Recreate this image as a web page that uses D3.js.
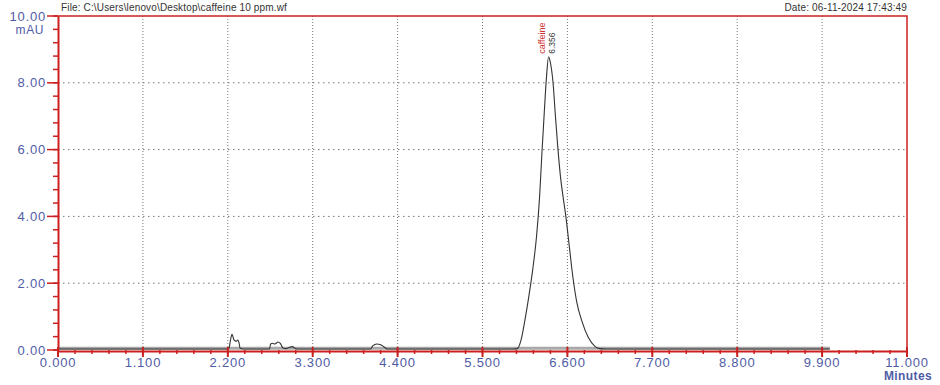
<html>
<head>
    <style>
        body {
            margin: 0;
            background: white;
            font-family: Arial, "Liberation Sans", Helvetica, sans-serif
        }
    </style>
    <script src="https://cdn.jsdelivr.net/npm/d3@7"></script>
</head>
<body>
    <svg id="Chromatogram"></svg>

    <script>
    // retention time (min) and absorbance (mAU)
    let times = [0, 2.2, 2.215, 2.235, 2.255, 2.28, 2.31, 2.33, 2.345, 2.36, 2.40,
        2.74, 2.755, 2.78, 2.81, 2.85, 2.88, 2.915, 2.95, 3.0, 3.04, 3.07, 3.1,
        4.05, 4.08, 4.13, 4.18, 4.23, 4.27,
        5.9, 5.95, 6.0, 6.05, 6.1, 6.15, 6.2, 6.24, 6.27, 6.30, 6.33, 6.356,
        6.38, 6.414, 6.445, 6.478, 6.51, 6.543, 6.58, 6.62, 6.67, 6.72, 6.79, 6.87, 6.96, 7.02, 7.1, 10.0];
    let signal = [0.03, 0.03, 0.05, 0.3, 0.47, 0.3, 0.26, 0.3, 0.22, 0.05, 0.03,
        0.03, 0.18, 0.2, 0.18, 0.24, 0.2, 0.06, 0.04, 0.08, 0.1, 0.05, 0.03,
        0.03, 0.13, 0.18, 0.16, 0.08, 0.03,
        0.03, 0.04, 0.3, 0.9, 1.6, 2.4, 3.4, 4.6, 5.9, 7.1, 8.2, 8.78,
        8.6, 8.0, 7.0, 6.0, 5.2, 4.6, 4.0, 3.2, 2.2, 1.45, 0.85, 0.38, 0.1, 0.04, 0.03, 0.03];

    let xTicks = [0, 1.1, 2.2, 3.3, 4.4, 5.5, 6.6, 7.7, 8.8, 9.9, 11];
    let yTicks = [0, 2, 4, 6, 8, 10];
    let baselineRange = [0, 10.0];

    let peakName = "caffeine";
    let peakTime = 6.356;
    let peakHeight = 8.78;

    let fileLabel = "File: C:\\Users\\lenovo\\Desktop\\caffeine 10 ppm.wf";
    let dateLabel = "Date: 06-11-2024 17:43:49";

    let red = "#cc2020";
    let blue = "#4f5ca6";

    function getConfig() {
        let width = 940;
        let height = 385;
        let margin = { top: 16, bottom: 35, left: 58, right: 33 };
        let bodyWidth = width - margin.left - margin.right;
        let bodyHeight = height - margin.top - margin.bottom;
        let container = d3.select("#Chromatogram")
            .attr("width", width)
            .attr("height", height);
        return { width, height, margin, bodyWidth, bodyHeight, container };
    }

    function getScales(config) {
        let { margin, bodyWidth, bodyHeight } = config;
        let xScale = d3.scaleLinear()
            .domain([0, 11])
            .range([margin.left, margin.left + bodyWidth]);
        let yScale = d3.scaleLinear()
            .domain([0, 10])
            .range([margin.top + bodyHeight, margin.top]);
        return { xScale, yScale };
    }

    function drawGrid(scales, config) {
        let { xScale, yScale } = scales;
        let { container } = config;
        let g = container.append("g");
        g.selectAll(".vgrid").data(xTicks.slice(1, -1))
            .enter().append("line")
            .attr("x1", d => xScale(d)).attr("x2", d => xScale(d))
            .attr("y1", yScale(10)).attr("y2", yScale(0))
            .attr("stroke", "#777")
            .attr("stroke-width", 1)
            .attr("stroke-dasharray", "1,2");
        g.selectAll(".hgrid").data(yTicks.slice(1, -1))
            .enter().append("line")
            .attr("x1", xScale(0)).attr("x2", xScale(11))
            .attr("y1", d => yScale(d)).attr("y2", d => yScale(d))
            .attr("stroke", "#777")
            .attr("stroke-width", 1)
            .attr("stroke-dasharray", "1.5,3.5");
    }

    function drawTrace(scales, config) {
        let { xScale, yScale } = scales;
        let { container } = config;

        // grey baseline band
        container.append("line")
            .attr("x1", xScale(baselineRange[0])).attr("x2", xScale(baselineRange[1]))
            .attr("y1", yScale(0.05)).attr("y2", yScale(0.05))
            .attr("stroke", "#a8a8a8")
            .attr("stroke-width", 3);

        let points = times.map((t, i) => [t, signal[i]]);
        let line = d3.line()
            .x(d => xScale(d[0]))
            .y(d => yScale(d[1]))
            .curve(d3.curveMonotoneX);
        container.append("path")
            .datum(points)
            .attr("d", line)
            .attr("fill", "none")
            .attr("stroke", "#333")
            .attr("stroke-width", 1.1);
    }

    function drawAxes(scales, config) {
        let { xScale, yScale } = scales;
        let { container } = config;
        let minorX = d3.range(0, 56).map(i => i * 0.22).filter(d => d <= 11.001);
        let minorY = d3.range(0, 26).map(i => i * 0.4).filter(d => d <= 10.001);

        // frame: top and right edges
        container.append("path")
            .attr("d", `M${xScale(0)},${yScale(10)}H${xScale(11)}V${yScale(0)}`)
            .attr("fill", "none")
            .attr("stroke", red)
            .attr("stroke-width", 1.5);

        // x axis
        let axisX = d3.axisBottom(xScale).tickValues(minorX).tickSize(0).tickFormat("");
        let gx = container.append("g")
            .attr("transform", `translate(0,${yScale(0) + 1})`)
            .call(axisX);
        gx.select(".domain").attr("stroke", red).attr("stroke-width", 2.2);
        gx.selectAll(".minor").data(minorX).enter().append("line")
            .attr("x1", d => xScale(d)).attr("x2", d => xScale(d))
            .attr("y1", -1).attr("y2", 3)
            .attr("stroke", red).attr("stroke-width", 1.5);
        gx.selectAll(".major").data(xTicks).enter().append("line")
            .attr("x1", d => xScale(d)).attr("x2", d => xScale(d))
            .attr("y1", -4).attr("y2", 6)
            .attr("stroke", red).attr("stroke-width", 2);
        gx.selectAll(".xlabel").data(xTicks).enter().append("text")
            .attr("x", d => xScale(d))
            .attr("y", 16)
            .attr("text-anchor", "middle")
            .attr("fill", blue)
            .style("font-size", "13px")
            .style("letter-spacing", "0.8px")
            .text(d => d3.format(".3f")(d));
        gx.append("text")
            .attr("x", xScale(11) + 1)
            .attr("y", 29)
            .attr("text-anchor", "middle")
            .attr("fill", blue)
            .style("font-size", "12px")
            .style("font-weight", "bold")
            .style("letter-spacing", "0.4px")
            .text("Minutes");

        // y axis
        let axisY = d3.axisLeft(yScale).tickValues(minorY).tickSize(0).tickFormat("");
        let gy = container.append("g")
            .attr("transform", `translate(${xScale(0)},0)`)
            .call(axisY);
        gy.select(".domain").attr("stroke", red).attr("stroke-width", 2);
        gy.selectAll(".minor").data(minorY).enter().append("line")
            .attr("x1", -5).attr("x2", 0)
            .attr("y1", d => yScale(d)).attr("y2", d => yScale(d))
            .attr("stroke", red).attr("stroke-width", 1.5);
        gy.selectAll(".major").data(yTicks).enter().append("line")
            .attr("x1", -11).attr("x2", 0)
            .attr("y1", d => yScale(d)).attr("y2", d => yScale(d))
            .attr("stroke", red).attr("stroke-width", 1.5);
        gy.selectAll(".ylabel").data(yTicks).enter().append("text")
            .attr("x", -12)
            .attr("y", d => yScale(d) + 4.5)
            .attr("text-anchor", "end")
            .attr("fill", blue)
            .style("font-size", "13px")
            .style("letter-spacing", "0.8px")
            .text(d => d3.format(".2f")(d));
        gy.append("text")
            .attr("x", -14)
            .attr("y", yScale(10) + 17.5)
            .attr("text-anchor", "end")
            .attr("fill", blue)
            .style("font-size", "12px")
            .style("letter-spacing", "0.6px")
            .text("mAU");
    }

    function drawLabels(scales, config) {
        let { xScale, yScale } = scales;
        let { container, margin, width } = config;
        container.append("text")
            .attr("x", margin.left + 3)
            .attr("y", 11)
            .attr("fill", "#333")
            .style("font-size", "10px")
            .style("letter-spacing", "0.15px")
            .text(fileLabel);
        container.append("text")
            .attr("x", width - margin.right)
            .attr("y", 11)
            .attr("text-anchor", "end")
            .attr("fill", "#333")
            .style("font-size", "10px")
            .style("letter-spacing", "0.15px")
            .text(dateLabel);

        let px = xScale(peakTime);
        let py = yScale(peakHeight);
        container.append("text")
            .attr("transform", `translate(${px - 4},${py - 3}) rotate(-90)`)
            .attr("fill", "#d03030")
            .style("font-size", "9px")
            .text(peakName);
        container.append("text")
            .attr("transform", `translate(${px + 6},${py - 3}) rotate(-90)`)
            .attr("fill", "#333")
            .style("font-size", "8.5px")
            .text(d3.format(".3f")(peakTime));
    }

    function drawChart() {
        let config = getConfig();
        let scales = getScales(config);
        drawGrid(scales, config);
        drawTrace(scales, config);
        drawAxes(scales, config);
        drawLabels(scales, config);
    }

    drawChart();
    </script>
</body>
</html>
